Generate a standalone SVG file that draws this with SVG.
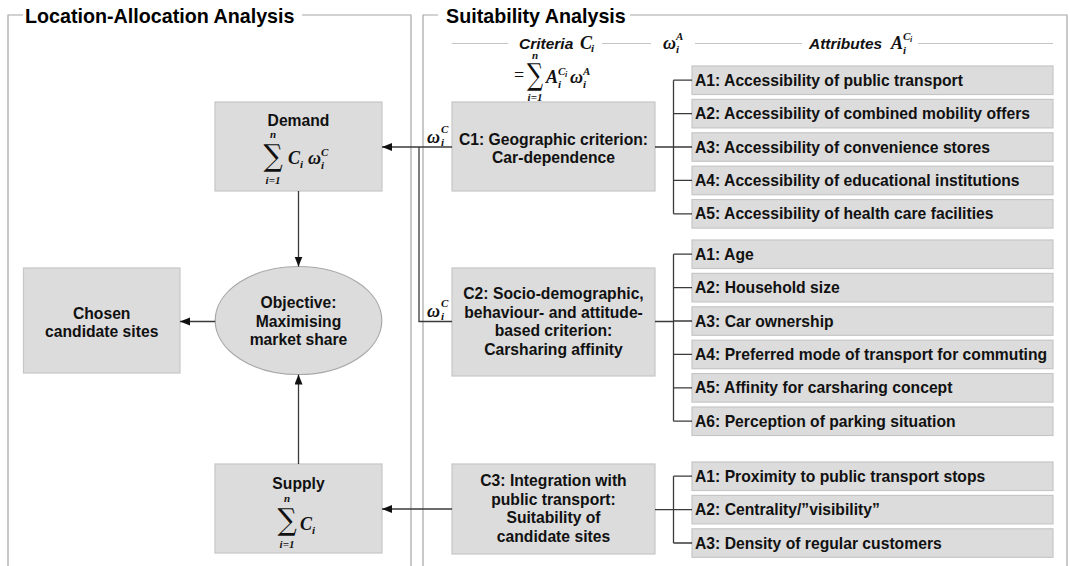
<svg xmlns="http://www.w3.org/2000/svg" width="1070" height="566" viewBox="0 0 1070 566">
<defs>
<marker id="arr" markerUnits="userSpaceOnUse" markerWidth="11" markerHeight="9" refX="10" refY="4" orient="auto">
<path d="M0,0 L10,4 L0,8 z" fill="#111"/>
</marker>
</defs>
<style>
.frame{fill:none;stroke:#a6a6a6;stroke-width:1.2}
.hl{stroke:#c4c4c4;stroke-width:1.2}
.box{fill:#dcdcdc;stroke:#c6c6c6;stroke-width:1.2}
.ell{fill:#dcdcdc;stroke:#a8a8a8;stroke-width:1.2}
.t{font-family:"Liberation Sans",Arial,sans-serif;font-weight:bold;font-size:15.7px;fill:#111}
.c{text-anchor:middle}
.title{font-family:"Liberation Sans",Arial,sans-serif;font-weight:bold;font-size:19.7px;fill:#000}
.h{font-family:"Liberation Sans",Arial,sans-serif;font-weight:bold;font-style:italic;font-size:15.5px;fill:#111}
.m{font-family:"Liberation Serif","Times New Roman",serif;font-style:italic;font-weight:bold;font-size:18px;fill:#111}
.ms{font-family:"Liberation Serif","Times New Roman",serif;font-style:italic;font-weight:bold;font-size:11px;fill:#111}
.mss{font-family:"Liberation Serif","Times New Roman",serif;font-style:italic;font-weight:bold;font-size:8px;fill:#111}
.sig{font-family:"DejaVu Serif",serif;font-size:30px;fill:#111;text-anchor:middle}
.eq{font-family:"Liberation Serif",serif;font-size:18px;fill:#111}
.ln{fill:none;stroke:#3a3a3a;stroke-width:1.3}
</style>
<rect width="1070" height="566" fill="#fff"/>

<g id="frame-location">
<path class="frame" d="M23,15 H8 V566 M302,15 H411 V566"/>
<text class="title" x="25" y="22.5">Location-Allocation Analysis</text>
</g>
<g id="frame-suitability">
<path class="frame" d="M438,15 H423 V566 M630,15 H1067 V566"/>
<text class="title" x="446" y="22.5">Suitability Analysis</text>
</g>

<g id="header">
<path class="hl" d="M452,43.5 H508 M602,43.5 H651 M695,43.5 H802 M918,43.5 H1053"/>
<text class="h" x="519" y="49">Criteria</text>
<text class="m" x="580" y="49">C</text><text class="ms" x="591" y="52">i</text>
<text class="m" x="663" y="49">ω</text><text class="ms" x="676" y="40">A</text><text class="ms" x="676" y="53">i</text>
<text class="h" x="809" y="49">Attributes</text>
<text class="m" x="891" y="49">A</text><text class="ms" x="903" y="40">C</text><text class="mss" x="910" y="42">i</text><text class="ms" x="903" y="54">i</text>
<text class="eq" x="514" y="81">=</text>
<text class="sig" transform="translate(535,85) scale(0.75,1)" x="0" y="0">∑</text>
<text class="ms c" x="535" y="59">n</text>
<text class="ms c" x="535" y="101">i=1</text>
<text class="m" x="546" y="83">A</text><text class="ms" x="558" y="75">C</text><text class="mss" x="565" y="77">i</text><text class="ms" x="558" y="88">i</text>
<text class="m" x="570" y="83">ω</text><text class="ms" x="583" y="75">A</text><text class="ms" x="583" y="88">i</text>
</g>

<g id="demand">
<rect class="box" x="215" y="102" width="167" height="89"/>
<text class="t c" x="298.5" y="126">Demand</text>
<text class="sig" transform="translate(273,166) scale(0.9,1)" x="0" y="0">∑</text>
<text class="ms c" x="273" y="138">n</text>
<text class="ms c" x="273" y="184">i=1</text>
<text class="m" x="288" y="164">C</text><text class="ms" x="300" y="168">i</text>
<text class="m" x="308" y="164">ω</text><text class="ms" x="321" y="156">C</text><text class="ms" x="321" y="169">i</text>
</g>

<g id="objective">
<ellipse class="ell" cx="298.5" cy="320.5" rx="83.3" ry="54"/>
<text class="t c" x="298.5" y="308">Objective:</text>
<text class="t c" x="298.5" y="326.7">Maximising</text>
<text class="t c" x="298.5" y="345.4">market share</text>
</g>

<g id="chosen">
<rect class="box" x="23.5" y="268" width="156.5" height="105"/>
<text class="t c" x="101.7" y="318.6">Chosen</text>
<text class="t c" x="101.7" y="337.3">candidate sites</text>
</g>

<g id="supply">
<rect class="box" x="215" y="464" width="167" height="89"/>
<text class="t c" x="298.5" y="489">Supply</text>
<text class="sig" transform="translate(287,530) scale(0.9,1)" x="0" y="0">∑</text>
<text class="ms c" x="287" y="502">n</text>
<text class="ms c" x="287" y="548">i=1</text>
<text class="m" x="300" y="530">C</text><text class="ms" x="312" y="534">i</text>
</g>

<g id="c1">
<rect class="box" x="452" y="102" width="203" height="89"/>
<text class="t c" x="553.5" y="144.5">C1: Geographic criterion:</text>
<text class="t c" x="553.5" y="162.5">Car-dependence</text>
</g>
<g id="c2">
<rect class="box" x="452" y="268" width="203" height="108"/>
<text class="t c" x="553.5" y="299">C2: Socio-demographic,</text>
<text class="t c" x="553.5" y="317.7">behaviour- and attitude-</text>
<text class="t c" x="553.5" y="336.4">based criterion:</text>
<text class="t c" x="553.5" y="355.1">Carsharing affinity</text>
</g>
<g id="c3">
<rect class="box" x="452" y="464" width="203" height="90"/>
<text class="t c" x="553.5" y="486">C3: Integration with</text>
<text class="t c" x="553.5" y="504.7">public transport:</text>
<text class="t c" x="553.5" y="523.4">Suitability of</text>
<text class="t c" x="553.5" y="542.1">candidate sites</text>
</g>

<g id="c1-attributes">
<rect class="box" x="692" y="66" width="361" height="28.5"/><text class="t" x="695" y="85.8">A1: Accessibility of public transport</text>
<rect class="box" x="692" y="99.4" width="361" height="28.5"/><text class="t" x="695" y="119.2">A2: Accessibility of combined mobility offers</text>
<rect class="box" x="692" y="132.8" width="361" height="28.5"/><text class="t" x="695" y="152.6">A3: Accessibility of convenience stores</text>
<rect class="box" x="692" y="166.2" width="361" height="28.5"/><text class="t" x="695" y="186">A4: Accessibility of educational institutions</text>
<rect class="box" x="692" y="199.6" width="361" height="28.5"/><text class="t" x="695" y="219.4">A5: Accessibility of health care facilities</text>
</g>
<g id="c2-attributes">
<rect class="box" x="692" y="240" width="361" height="28.5"/><text class="t" x="695" y="259.8">A1: Age</text>
<rect class="box" x="692" y="273.4" width="361" height="28.5"/><text class="t" x="695" y="293.2">A2: Household size</text>
<rect class="box" x="692" y="306.8" width="361" height="28.5"/><text class="t" x="695" y="326.6">A3: Car ownership</text>
<rect class="box" x="692" y="340.2" width="361" height="28.5"/><text class="t" x="695" y="360">A4: Preferred mode of transport for commuting</text>
<rect class="box" x="692" y="373.6" width="361" height="28.5"/><text class="t" x="695" y="393.4">A5: Affinity for carsharing concept</text>
<rect class="box" x="692" y="407" width="361" height="28.5"/><text class="t" x="695" y="426.8">A6: Perception of parking situation</text>
</g>
<g id="c3-attributes">
<rect class="box" x="692" y="462" width="361" height="28.5"/><text class="t" x="695" y="481.8">A1: Proximity to public transport stops</text>
<rect class="box" x="692" y="495.4" width="361" height="28.5"/><text class="t" x="695" y="515.2">A2: Centrality/”visibility”</text>
<rect class="box" x="692" y="528.8" width="361" height="28.5"/><text class="t" x="695" y="548.6">A3: Density of regular customers</text>
</g>

<g id="connectors">
<path class="ln" d="M452,147 H382" marker-end="url(#arr)"/>
<path class="ln" d="M452,321.5 H419 V147"/>
<path class="ln" d="M452,509 H382" marker-end="url(#arr)"/>
<path class="ln" d="M298.5,191 V266.5" marker-end="url(#arr)"/>
<path class="ln" d="M298.5,464 V374.5" marker-end="url(#arr)"/>
<path class="ln" d="M215.2,321.5 H180" marker-end="url(#arr)"/>
<path class="ln" d="M655,147 H673.5 M673.5,80.2 V213.8 M673.5,80.2 H692 M673.5,113.6 H692 M673.5,147 H692 M673.5,180.4 H692 M673.5,213.8 H692"/>
<path class="ln" d="M655,321.5 H673.5 M673.5,254.2 V421.2 M673.5,254.2 H692 M673.5,287.6 H692 M673.5,321 H692 M673.5,354.4 H692 M673.5,387.8 H692 M673.5,421.2 H692"/>
<path class="ln" d="M655,509.6 H673.5 M673.5,476.2 V543 M673.5,476.2 H692 M673.5,509.6 H692 M673.5,543 H692"/>
<text class="m" x="427" y="143">ω</text><text class="ms" x="441" y="133">C</text><text class="ms" x="441" y="146">i</text>
<text class="m" x="427" y="317">ω</text><text class="ms" x="441" y="307">C</text><text class="ms" x="441" y="320">i</text>
</g>
</svg>
